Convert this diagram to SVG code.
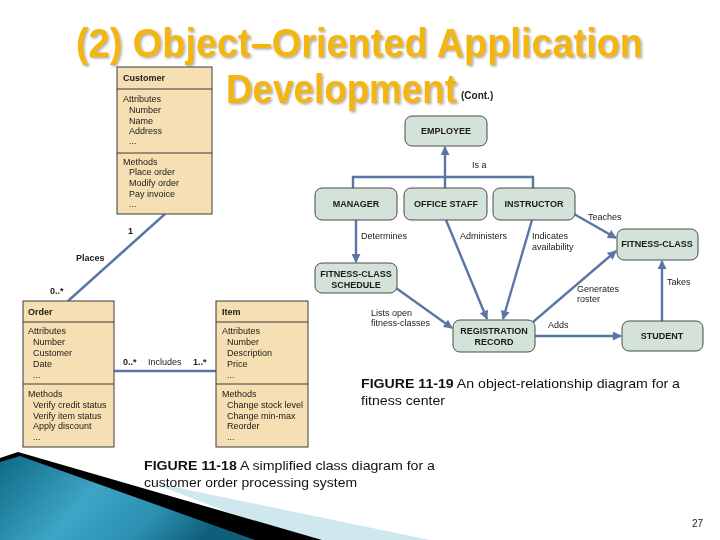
<svg xmlns="http://www.w3.org/2000/svg" width="720" height="540" viewBox="0 0 720 540">
<defs>
<style>
.t{font-family:"Liberation Sans",Arial,sans-serif;font-size:9px;fill:#1a1a1a}
.b{font-weight:bold}
.lbl{font-family:"Liberation Sans",Arial,sans-serif;font-size:9px;fill:#1a1a1a}
.nl{font-family:"Liberation Sans",Arial,sans-serif;font-size:9px;font-weight:bold;fill:#1a1a1a;text-anchor:middle}
.cls{fill:#f6dfb3;stroke:#3a3a3a;stroke-width:1}
.sep{stroke:#3a3a3a;stroke-width:1}
.node{fill:#d4e3d9;stroke:#4a4a4a;stroke-width:1}
.con{fill:none;stroke:#5a76a6;stroke-width:2.4}
.cap{font-family:"Liberation Sans",Arial,sans-serif;font-size:13px;fill:#111}
.title{font-family:"Liberation Sans",Arial,sans-serif;font-weight:bold;fill:#f4b50c}
</style>
<marker id="ah" viewBox="0 0 10 10" refX="9" refY="5" markerWidth="10" markerHeight="9" markerUnits="userSpaceOnUse" orient="auto">
<path d="M0,0 L10,5 L0,10 z" fill="#5a76a6"/>
</marker>
<filter id="sh" x="-5%" y="-20%" width="110%" height="140%">
<feDropShadow dx="1.5" dy="1.5" stdDeviation="0.8" flood-color="#8a8a8a" flood-opacity="0.7"/>
</filter>
<linearGradient id="teal" x1="0" y1="0" x2="1" y2="0.3">
<stop offset="0" stop-color="#0e6a86"/>
<stop offset="0.45" stop-color="#3ea5c6"/>
<stop offset="0.75" stop-color="#2a8fb0"/>
<stop offset="1" stop-color="#0f5f7a"/>
</linearGradient>
</defs>

<rect width="720" height="540" fill="#ffffff"/>

<!-- bottom-left decoration -->
<g id="decor">
<polygon points="150,482 430,540 300,540" fill="#cfe7ef"/>
<polygon points="0,458 18,452 322,540 0,540" fill="#000000"/>
<polygon points="0,462 20,456 255,540 0,540" fill="url(#teal)"/>
</g>

<!-- title -->
<g id="title" filter="url(#sh)">
<text class="title" transform="translate(76,57) scale(1,1.08)" x="0" y="0" font-size="37.8" textLength="567" lengthAdjust="spacingAndGlyphs">(2) Object–Oriented Application</text>
<text class="title" transform="translate(226,103) scale(1,1.08)" x="0" y="0" font-size="36.8" textLength="231" lengthAdjust="spacingAndGlyphs">Development</text>
</g>
<text x="461" y="99" font-family="'Liberation Sans',Arial,sans-serif" font-size="10" font-weight="bold" fill="#222">(Cont.)</text>

<!-- connectors -->
<g id="connectors">
<line class="con" x1="165" y1="214" x2="68" y2="301" stroke="#6a80ad" stroke-width="2"/>
<line class="con" x1="114" y1="371" x2="216" y2="371" stroke="#6a80ad" stroke-width="2"/>
<polyline class="con" points="353,188 353,177 533,177 533,188"/>
<line class="con" x1="445" y1="188" x2="445" y2="177"/>
<line class="con" x1="445" y1="177" x2="445" y2="147" marker-end="url(#ah)"/>
<line class="con" x1="356" y1="220" x2="356" y2="262" marker-end="url(#ah)"/>
<line class="con" x1="446" y1="220" x2="487" y2="319" marker-end="url(#ah)"/>
<line class="con" x1="532" y1="220" x2="503" y2="319" marker-end="url(#ah)"/>
<line class="con" x1="574" y1="214" x2="616" y2="238" marker-end="url(#ah)"/>
<line class="con" x1="396" y1="288" x2="452" y2="328" marker-end="url(#ah)"/>
<line class="con" x1="533" y1="322" x2="616" y2="251" marker-end="url(#ah)"/>
<line class="con" x1="535" y1="336" x2="621" y2="336" marker-end="url(#ah)"/>
<line class="con" x1="662" y1="321" x2="662" y2="261" marker-end="url(#ah)"/>
</g>

<!-- connector labels -->
<g id="labels">
<text class="lbl b" x="128" y="234">1</text>
<text class="lbl b" x="76" y="261">Places</text>
<text class="lbl b" x="50" y="294">0..*</text>
<text class="lbl b" x="123" y="365">0..*</text>
<text class="lbl" x="148" y="365">Includes</text>
<text class="lbl b" x="193" y="365">1..*</text>
<text class="lbl" x="472" y="168">Is a</text>
<text class="lbl" x="361" y="239">Determines</text>
<text class="lbl" x="460" y="239">Administers</text>
<text class="lbl" x="532" y="239">Indicates</text>
<text class="lbl" x="532" y="250">availability</text>
<text class="lbl" x="588" y="220">Teaches</text>
<text class="lbl" x="577" y="292">Generates</text>
<text class="lbl" x="577" y="302">roster</text>
<text class="lbl" x="667" y="285">Takes</text>
<text class="lbl" x="371" y="316">Lists open</text>
<text class="lbl" x="371" y="326">fitness-classes</text>
<text class="lbl" x="548" y="328">Adds</text>
</g>

<!-- class diagram nodes -->
<g id="customer">
<rect class="cls" x="117" y="67" width="95" height="147"/>
<line class="sep" x1="117" y1="89" x2="212" y2="89"/>
<line class="sep" x1="117" y1="153" x2="212" y2="153"/>
<text class="t b" x="123" y="81">Customer</text>
<text class="t" x="123" y="102">Attributes</text>
<text class="t" x="129" y="113">Number</text>
<text class="t" x="129" y="124">Name</text>
<text class="t" x="129" y="134">Address</text>
<text class="t" x="129" y="144">...</text>
<text class="t" x="123" y="165">Methods</text>
<text class="t" x="129" y="175">Place order</text>
<text class="t" x="129" y="186">Modify order</text>
<text class="t" x="129" y="197">Pay invoice</text>
<text class="t" x="129" y="207">...</text>
</g>

<g id="order">
<rect class="cls" x="23" y="301" width="91" height="146"/>
<line class="sep" x1="23" y1="322" x2="114" y2="322"/>
<line class="sep" x1="23" y1="384" x2="114" y2="384"/>
<text class="t b" x="28" y="315">Order</text>
<text class="t" x="28" y="334">Attributes</text>
<text class="t" x="33" y="345">Number</text>
<text class="t" x="33" y="356">Customer</text>
<text class="t" x="33" y="367">Date</text>
<text class="t" x="33" y="378">...</text>
<text class="t" x="28" y="397">Methods</text>
<text class="t" x="33" y="408">Verify credit status</text>
<text class="t" x="33" y="419">Verify item status</text>
<text class="t" x="33" y="429">Apply discount</text>
<text class="t" x="33" y="440">...</text>
</g>

<g id="item">
<rect class="cls" x="216" y="301" width="92" height="146"/>
<line class="sep" x1="216" y1="322" x2="308" y2="322"/>
<line class="sep" x1="216" y1="384" x2="308" y2="384"/>
<text class="t b" x="222" y="315">Item</text>
<text class="t" x="222" y="334">Attributes</text>
<text class="t" x="227" y="345">Number</text>
<text class="t" x="227" y="356">Description</text>
<text class="t" x="227" y="367">Price</text>
<text class="t" x="227" y="378">...</text>
<text class="t" x="222" y="397">Methods</text>
<text class="t" x="227" y="408">Change stock level</text>
<text class="t" x="227" y="419">Change min-max</text>
<text class="t" x="227" y="429">Reorder</text>
<text class="t" x="227" y="440">...</text>
</g>

<!-- object-relationship nodes -->
<g id="employee">
<rect class="node" x="405" y="116" width="82" height="30" rx="7"/>
<text class="nl" x="446" y="134">EMPLOYEE</text>
</g>
<g id="manager">
<rect class="node" x="315" y="188" width="82" height="32" rx="7"/>
<text class="nl" x="356" y="207">MANAGER</text>
</g>
<g id="officestaff">
<rect class="node" x="404" y="188" width="83" height="32" rx="7"/>
<text class="nl" x="446" y="207">OFFICE STAFF</text>
</g>
<g id="instructor">
<rect class="node" x="493" y="188" width="82" height="32" rx="7"/>
<text class="nl" x="534" y="207">INSTRUCTOR</text>
</g>
<g id="fitnessclass">
<rect class="node" x="617" y="229" width="81" height="31" rx="7"/>
<text class="nl" x="657" y="247">FITNESS-CLASS</text>
</g>
<g id="schedule">
<rect class="node" x="315" y="263" width="82" height="30" rx="7"/>
<text class="nl" x="356" y="277">FITNESS-CLASS</text>
<text class="nl" x="356" y="288">SCHEDULE</text>
</g>
<g id="registration">
<rect class="node" x="453" y="320" width="82" height="32" rx="7"/>
<text class="nl" x="494" y="334">REGISTRATION</text>
<text class="nl" x="494" y="345">RECORD</text>
</g>
<g id="student">
<rect class="node" x="622" y="321" width="81" height="30" rx="7"/>
<text class="nl" x="662" y="339">STUDENT</text>
</g>

<!-- captions -->
<g id="captions">
<text class="cap" x="361" y="388" textLength="319" lengthAdjust="spacingAndGlyphs"><tspan font-weight="bold">FIGURE 11-19</tspan> An object-relationship diagram for a</text>
<text class="cap" x="361" y="405" textLength="84" lengthAdjust="spacingAndGlyphs">fitness center</text>
<text class="cap" x="144" y="470" textLength="291" lengthAdjust="spacingAndGlyphs"><tspan font-weight="bold">FIGURE 11-18</tspan> A simplified class diagram for a</text>
<text class="cap" x="144" y="487" textLength="213" lengthAdjust="spacingAndGlyphs">customer order processing system</text>
<text x="703" y="527" text-anchor="end" font-family="'Liberation Sans',Arial,sans-serif" font-size="10" fill="#222">27</text>
</g>
</svg>
